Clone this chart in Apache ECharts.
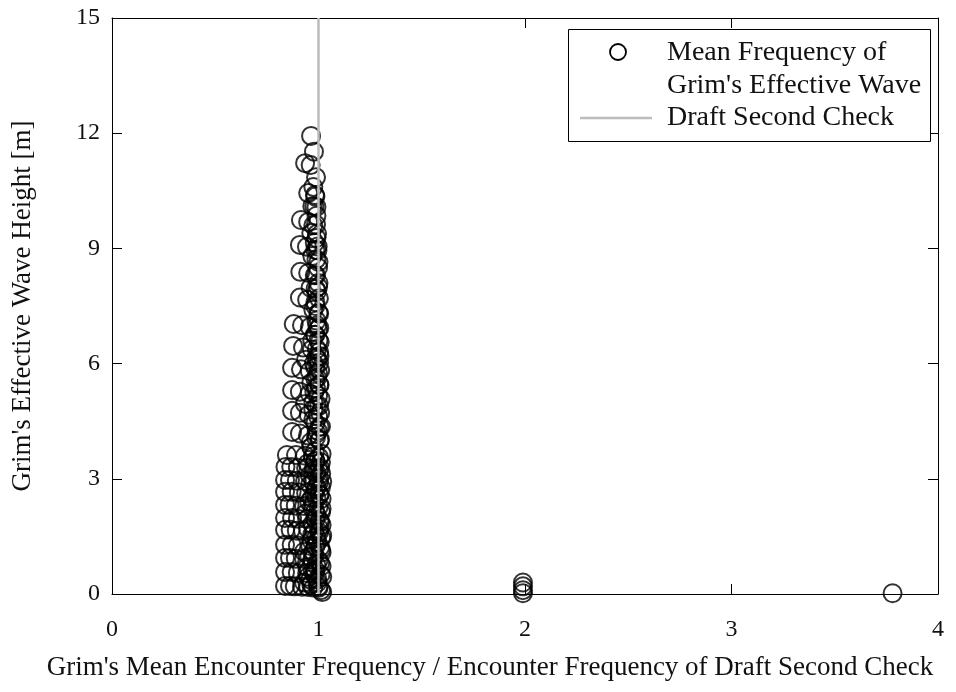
<!DOCTYPE html>
<html>
<head>
<meta charset="utf-8">
<script src="https://cdn.jsdelivr.net/npm/echarts@6/dist/echarts.min.js"></script>
<style>
  html, body { margin: 0; padding: 0; background: #fff; }
  #chart { width: 956px; height: 692px; }
</style>
</head>
<body>
<div id="chart"></div>
<script>
// Axis ticks
const xTicks = [0, 1, 2, 3, 4];
const yTicks = [0, 3, 6, 9, 12, 15];

// [frequency ratio, effective wave height in m] — upper part of the cluster
const highBand = [
  [0.964, 11.93], [0.978, 11.52], [0.935, 11.22], [0.962, 11.17], [0.988, 10.85],
  [0.950, 10.44], [0.983, 10.39], [0.990, 10.08], [0.970, 10.10], [0.915, 9.74],
  [0.950, 9.69], [0.988, 9.62], [0.965, 9.40], [0.990, 9.27], [0.910, 9.09],
  [0.944, 9.04], [0.985, 8.96], [0.970, 8.80], [1.000, 8.65], [0.912, 8.39],
  [0.950, 8.36], [0.988, 8.30], [0.998, 8.00], [0.962, 7.98], [0.910, 7.72],
  [0.945, 7.66], [0.985, 7.60], [0.975, 7.40], [1.000, 7.32]
];

// middle part of the cluster
const midBand = [
  [0.880, 7.03], [0.920, 7.00], [0.958, 6.95], [0.998, 6.90], [0.985, 6.75],
  [1.000, 6.60], [0.970, 6.60], [0.877, 6.46], [0.925, 6.42], [0.968, 6.37],
  [1.003, 6.30], [0.990, 6.15], [0.940, 6.10], [1.003, 6.02], [0.872, 5.89],
  [0.915, 5.85], [0.958, 5.80], [0.998, 5.75], [0.985, 5.60], [0.965, 5.50],
  [1.003, 5.45], [0.872, 5.31], [0.910, 5.27], [0.958, 5.22], [0.998, 5.16],
  [0.975, 5.00], [0.935, 4.95], [1.003, 4.90], [0.872, 4.77], [0.910, 4.72],
  [0.953, 4.67], [0.998, 4.62], [0.985, 4.45], [1.005, 4.35], [0.872, 4.22],
  [0.910, 4.18], [0.949, 4.13], [0.988, 4.08], [1.007, 4.02]
];

// lower part of the cluster
const lowBand = [
  [0.847, 3.62], [0.891, 3.62], [0.935, 3.60], [0.973, 3.58], [1.003, 3.56],
  [0.985, 3.45], [1.012, 3.43],
  [0.840, 3.31], [0.868, 3.31], [0.900, 3.29], [0.940, 3.28], [0.978, 3.27], [1.000, 3.25],
  [0.990, 3.15], [1.013, 3.13],
  [0.838, 2.97], [0.862, 2.97], [0.895, 2.95], [0.935, 2.94], [0.975, 2.93], [1.002, 2.91],
  [0.990, 2.80], [1.012, 2.78],
  [0.838, 2.66], [0.870, 2.66], [0.905, 2.64], [0.940, 2.63], [0.980, 2.62], [1.005, 2.60],
  [0.990, 2.50], [1.015, 2.48],
  [0.838, 2.32], [0.860, 2.32], [0.890, 2.30], [0.930, 2.29], [0.970, 2.28], [1.000, 2.26],
  [0.985, 2.15], [1.012, 2.13],
  [0.838, 1.98], [0.872, 1.98], [0.900, 1.96], [0.945, 1.95], [0.985, 1.94], [1.005, 1.92],
  [0.970, 1.82], [1.015, 1.80],
  [0.838, 1.67], [0.865, 1.67], [0.895, 1.65], [0.925, 1.64], [0.980, 1.63], [1.002, 1.61],
  [0.990, 1.48], [1.013, 1.46],
  [0.838, 1.28], [0.870, 1.28], [0.900, 1.26], [0.960, 1.25], [0.985, 1.24], [1.008, 1.22],
  [0.975, 1.10], [1.015, 1.08],
  [0.838, 0.94], [0.862, 0.94], [0.890, 0.92], [0.930, 0.91], [0.970, 0.90], [1.000, 0.88],
  [0.990, 0.75], [1.015, 0.73],
  [0.838, 0.57], [0.870, 0.57], [0.900, 0.55], [0.945, 0.54], [0.980, 0.53], [1.010, 0.51],
  [0.950, 0.45], [0.960, 0.38], [0.995, 0.38], [0.930, 0.30], [0.965, 0.25],
  [0.838, 0.21], [0.862, 0.21], [0.885, 0.20], [0.920, 0.19], [0.950, 0.18], [0.975, 0.17], [1.000, 0.16],
  [1.018, 0.05]
];

// tightly packed cases right at the draft-check frequency
const denseColumn = [
  [1.012, 0.10], [0.995, 0.30], [1.018, 0.45], [0.985, 0.62], [1.008, 0.80],
  [0.955, 0.98], [1.012, 1.15], [0.995, 1.35], [1.018, 1.52], [0.950, 1.70],
  [1.008, 1.88], [0.990, 2.05], [1.015, 2.22], [0.955, 2.40], [1.005, 2.58],
  [0.988, 2.75], [1.018, 2.92], [0.958, 3.10], [1.008, 3.28], [0.985, 3.47],
  [1.015, 3.65], [0.965, 3.82], [1.005, 4.00], [0.990, 4.18], [1.012, 4.36],
  [0.975, 4.55], [1.008, 4.72], [0.992, 4.90], [1.010, 5.08], [0.980, 5.27],
  [1.005, 5.45], [0.993, 5.63], [1.008, 5.82], [0.978, 6.00], [1.005, 6.20],
  [0.992, 6.38], [1.006, 6.56], [0.982, 6.75], [1.004, 6.93], [0.990, 7.12],
  [1.003, 7.30], [0.985, 7.50], [1.002, 7.70], [0.992, 7.88], [1.000, 8.10],
  [0.982, 8.30], [0.998, 8.50], [0.990, 8.72], [0.995, 8.95], [0.982, 9.15],
  [0.993, 9.38], [0.975, 9.60], [0.990, 9.85], [0.980, 10.10], [0.985, 10.35],
  [0.975, 10.60],
  [0.945, 0.70], [0.965, 1.40], [0.940, 2.10], [0.968, 2.50], [0.948, 3.40],
  [0.962, 3.95], [0.930, 1.10], [0.972, 0.60], [0.960, 2.85], [0.975, 4.80],
  [1.000, 0.20], [0.980, 1.00], [1.004, 1.70], [0.978, 2.35], [1.002, 3.00],
  [0.982, 3.70], [0.996, 4.25], [0.988, 5.35], [0.996, 6.10], [0.994, 7.00],
  [0.986, 7.95], [0.996, 9.05], [0.970, 1.55], [0.975, 3.20], [0.984, 5.90]
];

// isolated points away from the cluster
const outliers = [
  [1.99, 0.02], [1.99, 0.10], [1.99, 0.20], [1.99, 0.30], [3.78, 0.02]
];

// vertical reference line: the draft second-check frequency
const draftCheckX = 1;
const draftCheckRange = [0, 15];

const FONT = '"Liberation Serif", "Times New Roman", serif';
const scatterPoints = highBand.concat(midBand, lowBand, denseColumn, outliers);

const chart = echarts.init(document.getElementById('chart'), null, { renderer: 'canvas' });

const commonAxis = {
  axisLine: { show: true, onZero: false, lineStyle: { color: '#000', width: 1 } },
  axisTick: { show: true, inside: true, length: 10, lineStyle: { color: '#000', width: 1 } },
  splitLine: { show: false }
};

chart.setOption({
  backgroundColor: '#fff',
  animation: false,
  grid: { left: 112, right: 18, top: 18, bottom: 98, containLabel: false },
  xAxis: [
    Object.assign({
      type: 'value', min: xTicks[0], max: xTicks[xTicks.length - 1], interval: 1,
      position: 'bottom',
      axisLabel: { color: '#111', fontFamily: FONT, fontSize: 24, margin: 24 }
    }, commonAxis),
    Object.assign({
      type: 'value', min: xTicks[0], max: xTicks[xTicks.length - 1], interval: 1,
      position: 'top', axisLabel: { show: false }
    }, commonAxis)
  ],
  yAxis: [
    Object.assign({
      type: 'value', min: yTicks[0], max: yTicks[yTicks.length - 1], interval: 3,
      position: 'left',
      name: "Grim's Effective Wave Height [m]",
      nameLocation: 'middle', nameGap: 76,
      nameTextStyle: { color: '#111', fontFamily: FONT, fontSize: 27 },
      axisLabel: { color: '#111', fontFamily: FONT, fontSize: 24, margin: 12 }
    }, commonAxis),
    Object.assign({
      type: 'value', min: yTicks[0], max: yTicks[yTicks.length - 1], interval: 3,
      position: 'right', axisLabel: { show: false }
    }, commonAxis)
  ],
  series: [
    {
      name: "Mean Frequency of Grim's Effective Wave",
      type: 'scatter',
      data: scatterPoints,
      symbol: 'circle',
      symbolSize: 18,
      itemStyle: { color: 'rgba(0,0,0,0)', borderColor: '#000', borderWidth: 2 },
      z: 2
    },
    {
      name: 'Draft Second Check',
      type: 'line',
      data: [[draftCheckX, draftCheckRange[0]], [draftCheckX, draftCheckRange[1]]],
      symbol: 'none',
      lineStyle: { color: '#bcbcbc', width: 2.5 },
      z: 3
    }
  ],
  graphic: [
    {
      type: 'text', x: 490, y: 668,
      style: {
        text: "Grim's Mean Encounter Frequency / Encounter Frequency of Draft Second Check",
        fill: '#111', font: '27px ' + FONT, align: 'center', verticalAlign: 'middle'
      }
    },
    // legend box
    {
      type: 'rect', shape: { x: 568.5, y: 29.5, width: 362, height: 112 },
      style: { fill: '#fff', stroke: '#000', lineWidth: 1 }, z: 10
    },
    {
      type: 'circle', shape: { cx: 618, cy: 52, r: 8 },
      style: { fill: 'none', stroke: '#000', lineWidth: 1.8 }, z: 11
    },
    {
      type: 'line', shape: { x1: 580, y1: 118, x2: 652, y2: 118 },
      style: { stroke: '#bcbcbc', lineWidth: 2.5 }, z: 11
    },
    {
      type: 'text', x: 667, y: 53, z: 11,
      style: { text: 'Mean Frequency of', fill: '#111', font: '28px ' + FONT, verticalAlign: 'middle' }
    },
    {
      type: 'text', x: 667, y: 86, z: 11,
      style: { text: "Grim's Effective Wave", fill: '#111', font: '28px ' + FONT, verticalAlign: 'middle' }
    },
    {
      type: 'text', x: 667, y: 118, z: 11,
      style: { text: 'Draft Second Check', fill: '#111', font: '28px ' + FONT, verticalAlign: 'middle' }
    }
  ]
});
</script>
</body>
</html>
